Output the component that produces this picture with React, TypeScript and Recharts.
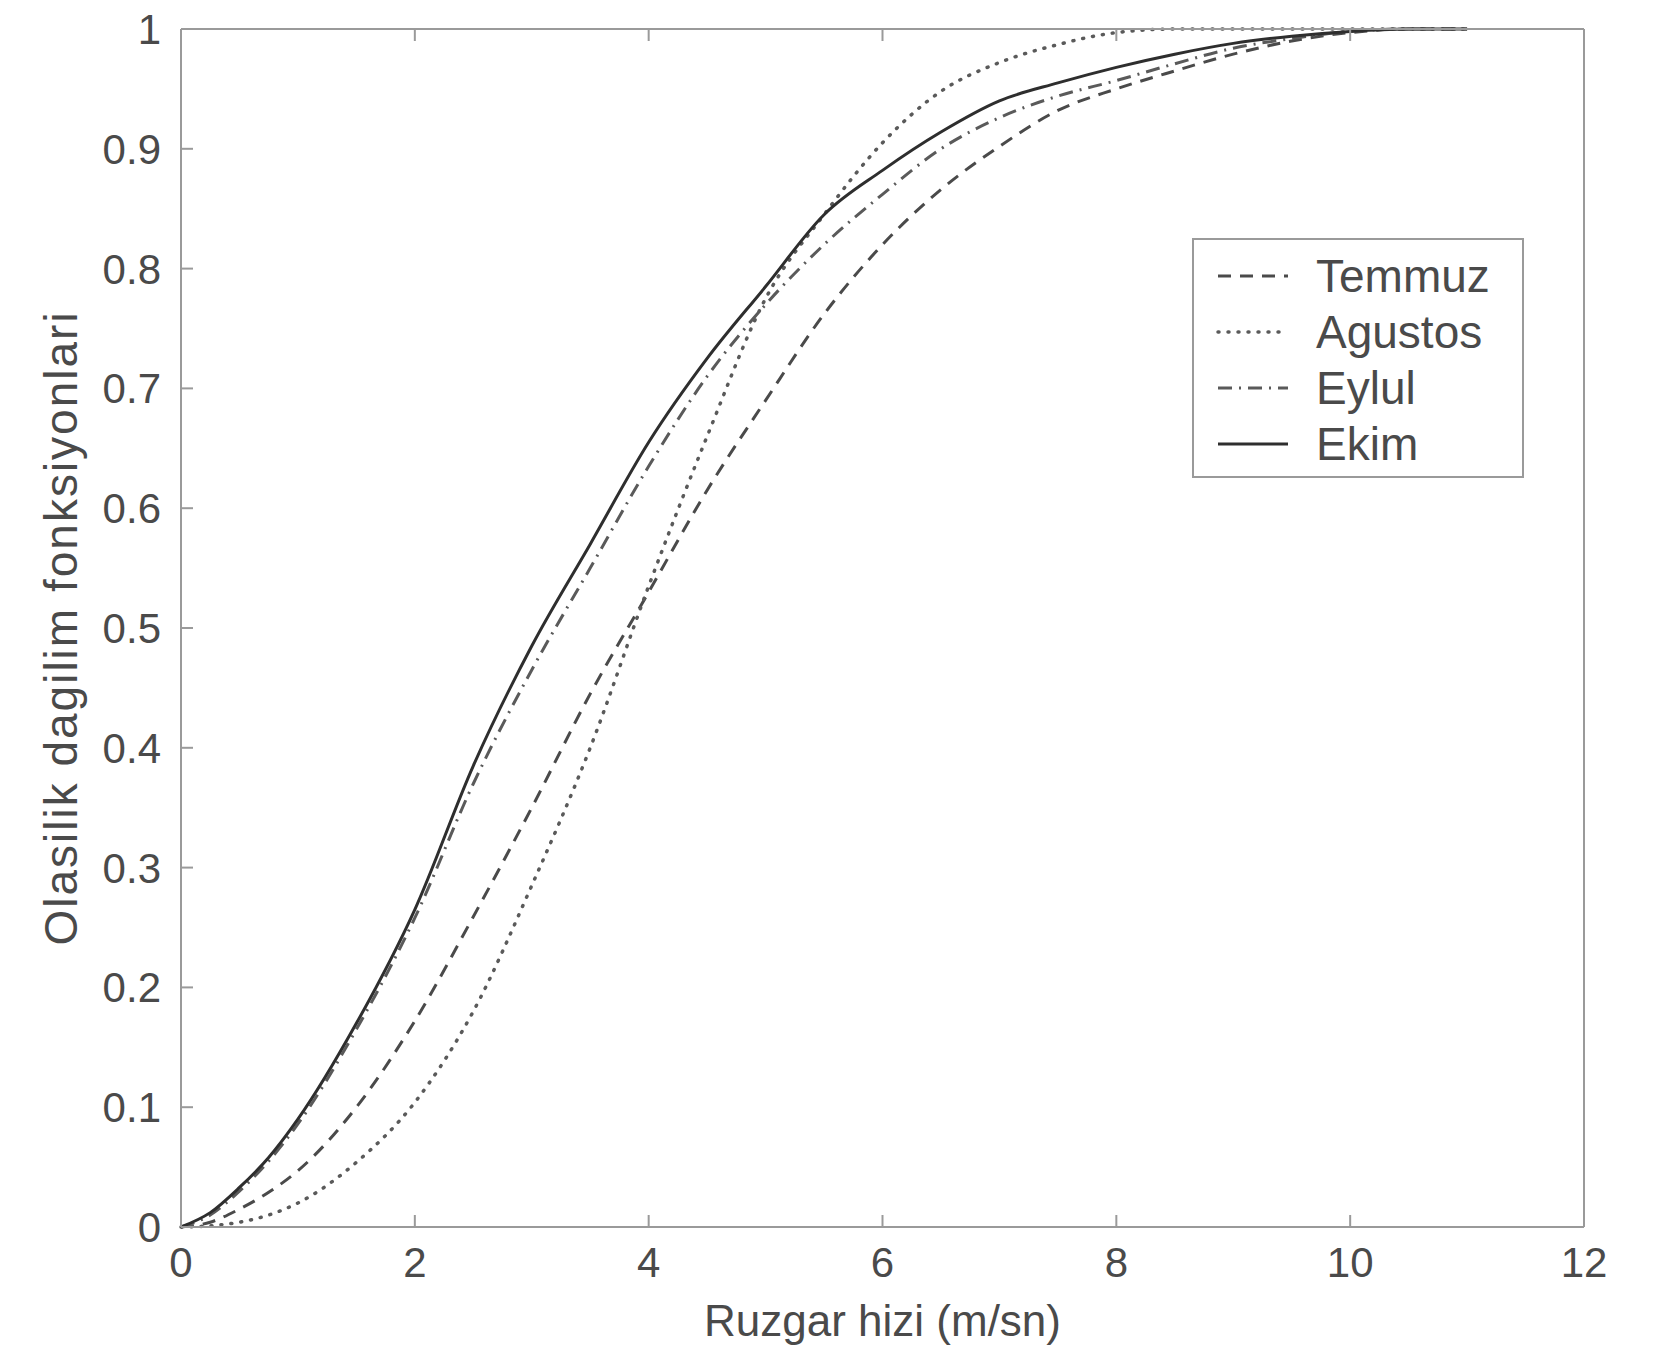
import React from "react";
import { LineChart, Line, XAxis, YAxis, Legend } from "recharts";

// wind speed grid (m/sn)
const speeds = [0, 0.25, 0.5, 0.75, 1, 1.5, 2, 2.5, 3, 3.5, 4, 4.5, 5, 5.5, 6, 6.5, 7, 7.5, 8, 8.5, 9, 9.5, 10, 10.5, 11];

// cumulative distribution values
const temmuz = [0, 0.004, 0.015, 0.029, 0.047, 0.1, 0.172, 0.259, 0.35, 0.445, 0.53, 0.615, 0.69, 0.762, 0.82, 0.866, 0.902, 0.932, 0.95, 0.965, 0.979, 0.99, 0.997, 1, 1];
const agustos = [0, 0.001, 0.004, 0.01, 0.02, 0.054, 0.104, 0.18, 0.285, 0.4, 0.535, 0.66, 0.775, 0.845, 0.905, 0.948, 0.972, 0.987, 0.997, 1, 1, 1, 1, 1, 1];
const eylul = [0, 0.01, 0.03, 0.055, 0.086, 0.165, 0.258, 0.37, 0.465, 0.55, 0.635, 0.71, 0.77, 0.82, 0.862, 0.9, 0.926, 0.944, 0.957, 0.971, 0.984, 0.992, 0.998, 1, 1];
const ekim = [0, 0.012, 0.033, 0.058, 0.09, 0.17, 0.265, 0.385, 0.485, 0.57, 0.655, 0.725, 0.785, 0.845, 0.882, 0.914, 0.94, 0.955, 0.968, 0.979, 0.988, 0.994, 0.998, 1, 1];

const xTicks = [0, 2, 4, 6, 8, 10, 12];
const yTicks = [0, 0.1, 0.2, 0.3, 0.4, 0.5, 0.6, 0.7, 0.8, 0.9, 1];

const SERIES = [
  { key: "temmuz", name: "Temmuz", dash: "13 9", color: "#4a4a4a", width: 3 },
  { key: "agustos", name: "Agustos", dash: "1 9", color: "#5a5a5a", width: 3.5 },
  { key: "eylul", name: "Eylul", dash: "14 7 2 7", color: "#5a5a5a", width: 3 },
  { key: "ekim", name: "Ekim", dash: undefined, color: "#2e2e2e", width: 3 },
];

const data = speeds.map((x, i) => ({
  x,
  temmuz: temmuz[i],
  agustos: agustos[i],
  eylul: eylul[i],
  ekim: ekim[i],
}));

const FONT = "'Liberation Sans Narrow', 'Liberation Sans', Arial, sans-serif";
const FRAME = "#9a9a9a";
const TEXT = "#4a4a4a";
const TICK_LEN = 12;

// MATLAB-style ticks: short marks pointing into the plot box
function BottomTick(props: any) {
  const { x, y, payload } = props;
  return (
    <g>
      <line x1={x} y1={y} x2={x} y2={y - TICK_LEN} stroke={FRAME} strokeWidth={2} />
      <text x={x} y={y + 20} dy="0.71em" textAnchor="middle" fontSize={42} fill={TEXT} fontFamily={FONT}>
        {payload.value}
      </text>
    </g>
  );
}

function LeftTick(props: any) {
  const { x, y, payload } = props;
  return (
    <g>
      <line x1={x} y1={y} x2={x + TICK_LEN} y2={y} stroke={FRAME} strokeWidth={2} />
      <text x={x - 20} y={y} dy="0.355em" textAnchor="end" fontSize={42} fill={TEXT} fontFamily={FONT}>
        {payload.value}
      </text>
    </g>
  );
}

function TopTick(props: any) {
  const { x, y } = props;
  return <line x1={x} y1={y} x2={x} y2={y + TICK_LEN} stroke={FRAME} strokeWidth={2} />;
}

function RightTick(props: any) {
  const { x, y } = props;
  return <line x1={x} y1={y} x2={x - TICK_LEN} y2={y} stroke={FRAME} strokeWidth={2} />;
}

function LegendBox() {
  return (
    <div
      style={{
        width: 332,
        height: 240,
        border: `2px solid ${FRAME}`,
        background: "#fff",
        boxSizing: "border-box",
        paddingTop: 8,
        fontFamily: FONT,
      }}
    >
      {SERIES.map((s) => (
        <div key={s.key} style={{ display: "flex", alignItems: "center", height: 56 }}>
          <svg width={100} height={20} style={{ marginLeft: 22 }}>
            <line
              x1={2}
              y1={10}
              x2={72}
              y2={10}
              stroke={s.color}
              strokeWidth={s.width}
              strokeDasharray={s.dash}
              strokeLinecap={s.key === "agustos" ? "round" : "butt"}
            />
          </svg>
          <span style={{ fontSize: 46, color: TEXT, lineHeight: 1 }}>{s.name}</span>
        </div>
      ))}
    </div>
  );
}

export default function App() {
  // pull the chart up over the body margin so the top "1" label has room
  return (
    <div style={{ marginTop: -8 }}>
      <LineChart
        width={1640}
        height={1348}
        data={data}
        margin={{ top: 28, right: 63, left: 93, bottom: 61 }}
      >
        <XAxis
          dataKey="x"
          type="number"
          domain={[0, 12]}
          ticks={xTicks}
          height={60}
          tickSize={0}
          tickMargin={0}
          tickLine={false}
          stroke={FRAME}
          strokeWidth={2}
          tick={BottomTick}
          label={{
            value: "Ruzgar hizi (m/sn)",
            position: "bottom",
            offset: 18,
            style: { fontSize: 44, fill: TEXT, fontFamily: FONT },
          }}
        />
        <XAxis
          xAxisId="top"
          orientation="top"
          dataKey="x"
          type="number"
          domain={[0, 12]}
          ticks={xTicks}
          height={1}
          tickSize={0}
          tickMargin={0}
          tickLine={false}
          tick={TopTick}
          stroke={FRAME}
          strokeWidth={2}
        />
        <YAxis
          type="number"
          domain={[0, 1]}
          ticks={yTicks}
          width={80}
          tickSize={0}
          tickMargin={0}
          tickLine={false}
          stroke={FRAME}
          strokeWidth={2}
          tick={LeftTick}
          label={{
            value: "Olasilik dagilim fonksiyonlari",
            angle: -90,
            position: "left",
            offset: 40,
            style: { fontSize: 46, letterSpacing: 2, fill: TEXT, fontFamily: FONT, textAnchor: "middle" },
          }}
        />
        <YAxis
          yAxisId="right"
          orientation="right"
          type="number"
          domain={[0, 1]}
          ticks={yTicks}
          width={1}
          tickSize={0}
          tickMargin={0}
          tickLine={false}
          tick={RightTick}
          stroke={FRAME}
          strokeWidth={2}
        />
        <Legend
          layout="vertical"
          align="center"
          verticalAlign="middle"
          wrapperStyle={{ left: 1184, top: 238, width: 332 }}
          content={() => <LegendBox />}
        />
        {SERIES.map((s) => (
          <Line
            key={s.key}
            dataKey={s.key}
            name={s.name}
            type="monotone"
            stroke={s.color}
            strokeWidth={s.width}
            strokeDasharray={s.dash}
            strokeLinecap={s.key === "agustos" ? "round" : "butt"}
            dot={false}
            activeDot={false}
            isAnimationActive={false}
          />
        ))}
      </LineChart>
    </div>
  );
}
